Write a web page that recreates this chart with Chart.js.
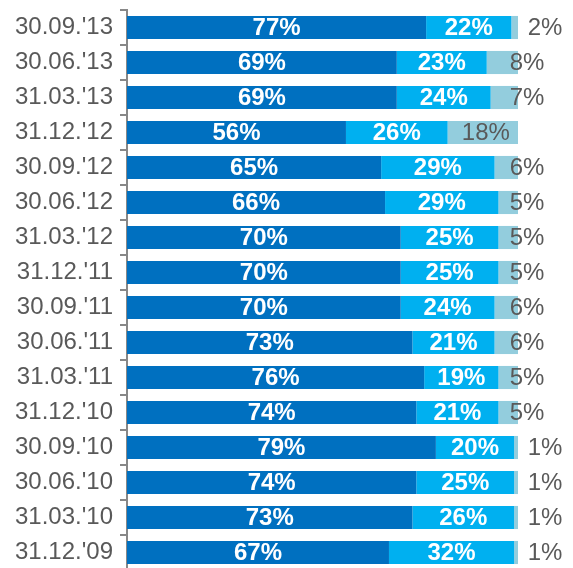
<!DOCTYPE html>
<html>
<head>
<meta charset="utf-8">
<script src="https://cdn.jsdelivr.net/npm/chart.js@4"></script>
<style>
  html, body { margin: 0; padding: 0; overflow: hidden; background: #fff; }
  #wrap { position: relative; width: 573px; height: 572px; }
</style>
</head>
<body>
<div id="wrap"><canvas id="chart"></canvas></div>
<script>
const dates = [
  "30.09.'13", "30.06.'13", "31.03.'13", "31.12.'12", "30.09.'12", "30.06.'12",
  "31.03.'12", "31.12.'11", "30.09.'11", "30.06.'11", "31.03.'11", "31.12.'10",
  "30.09.'10", "30.06.'10", "31.03.'10", "31.12.'09"
];
const darkShare = [76.5, 69, 69, 56, 65, 66, 70, 70, 70, 73, 76, 74, 79, 74, 73, 67];
const midShare = [21.8, 23, 24, 26, 29, 29, 25, 25, 24, 21, 19, 21, 20, 25, 26, 32];
const paleShare = [1.7, 8, 7, 18, 6, 5, 5, 5, 6, 6, 5, 5, 1, 1, 1, 1];

const colors = ['#0070C0', '#00B0F0', '#93CDDD'];
const grey = '#595959';
const fontFamily = '"Liberation Sans", Arial, sans-serif';

// percentage labels inside / beside the segments
const valueLabels = {
  id: 'valueLabels',
  afterDatasetsDraw(chart) {
    const ctx = chart.ctx;
    ctx.save();
    ctx.textBaseline = 'middle';
    ctx.textAlign = 'center';
    chart.data.datasets.forEach((ds, i) => {
      const meta = chart.getDatasetMeta(i);
      meta.data.forEach((bar, j) => {
        const v = ds.data[j];
        const text = Math.round(v) + '%';
        let x = (bar.x + bar.base) / 2;
        if (i < 2) {
          ctx.font = 'bold 24px ' + fontFamily;
          ctx.fillStyle = '#fff';
        } else {
          ctx.font = '24px ' + fontFamily;
          ctx.fillStyle = grey;
          if (v < 3) x = bar.x + 27;
          else if (v < 10) x = bar.x + 9;
          else x = x + 3;
        }
        ctx.fillText(text, x, bar.y + 1);
      });
    });
    ctx.restore();
  }
};

new Chart(document.getElementById('chart'), {
  type: 'bar',
  data: {
    labels: dates,
    datasets: [
      { data: darkShare, backgroundColor: colors[0] },
      { data: midShare, backgroundColor: colors[1] },
      { data: paleShare, backgroundColor: colors[2] },
    ],
  },
  options: {
    indexAxis: 'y',
    responsive: true,
    maintainAspectRatio: false,
    animation: false,
    datasets: {
      bar: { categoryPercentage: 1, barPercentage: 0.66, borderWidth: 0 },
    },
    layout: { padding: { top: 10, right: 55, left: 0, bottom: 2 } },
    plugins: { legend: { display: false }, tooltip: { enabled: false } },
    scales: {
      x: { stacked: true, min: 0, max: 100, display: false },
      y: {
        stacked: true,
        afterFit: (scale) => {
          scale.width = 127;
          scale.paddingTop = 0;
          scale.paddingBottom = 0;
        },
        border: { color: '#888', width: 2 },
        grid: {
          offset: true,
          drawOnChartArea: false,
          tickLength: 7,
          color: '#888',
          lineWidth: 2,
        },
        ticks: {
          color: grey,
          padding: 7,
          font: { family: fontFamily, size: 24 },
        },
      },
    },
  },
  plugins: [valueLabels],
});
</script>
</body>
</html>
